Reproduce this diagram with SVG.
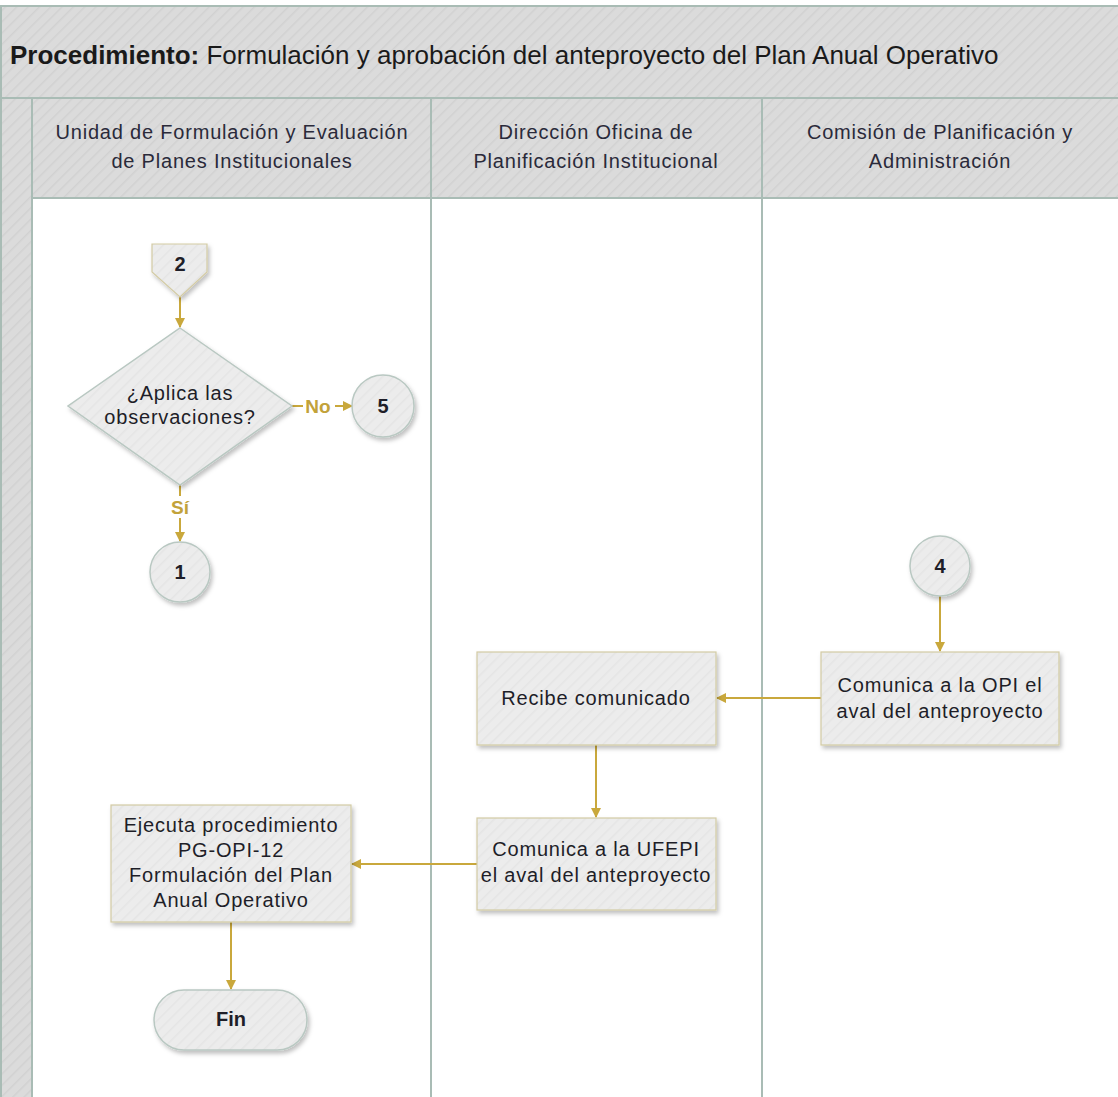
<svg xmlns="http://www.w3.org/2000/svg" width="1118" height="1097" viewBox="0 0 1118 1097">
<defs>
<pattern id="hatch" width="8" height="8" patternUnits="userSpaceOnUse" patternTransform="rotate(45)">
<rect width="8" height="8" fill="#dbdbdb"/>
<line x1="0" y1="0" x2="0" y2="8" stroke="#d1d1d1" stroke-width="3"/>
</pattern>
<pattern id="hatchN" width="8" height="8" patternUnits="userSpaceOnUse" patternTransform="rotate(45)">
<rect width="8" height="8" fill="#ececec"/>
<line x1="0" y1="0" x2="0" y2="8" stroke="#e5e5e5" stroke-width="3"/>
</pattern>
<filter id="sh" x="-10%" y="-10%" width="130%" height="130%">
<feDropShadow dx="2" dy="3" stdDeviation="2" flood-color="#000" flood-opacity="0.25"/>
</filter>
<marker id="arr" markerWidth="10" markerHeight="10" refX="9" refY="5" orient="auto" markerUnits="userSpaceOnUse" viewBox="0 0 10 10">
<path d="M0,0 L10,5 L0,10 Z" fill="#c9a83c"/>
</marker>
</defs>
<style>
.frame{fill:none;stroke:#a9bcb5;stroke-width:2}
.hdr{fill:url(#hatch);stroke:#a9bcb5;stroke-width:2}
.node{fill:url(#hatchN);stroke:#d3cba4;stroke-width:1.2;filter:url(#sh)}
.cir{fill:url(#hatchN);stroke:#b9c8c2;stroke-width:1.5;filter:url(#sh)}
.lane{font-family:"Liberation Sans",Arial,sans-serif;font-size:20px;letter-spacing:0.8px;fill:#2a2a3a;text-anchor:middle}
.t{font-family:"Liberation Sans",Arial,sans-serif;font-size:20px;letter-spacing:0.8px;fill:#1e1e28;text-anchor:middle}
.b{font-family:"Liberation Sans",Arial,sans-serif;font-size:20px;font-weight:bold;fill:#1e1e28;text-anchor:middle}
.lbl{font-family:"Liberation Sans",Arial,sans-serif;font-size:19px;font-weight:bold;fill:#c2a23a;text-anchor:middle}
.c{fill:none;stroke:#c9a83c;stroke-width:2;marker-end:url(#arr)}
</style>
<rect x="0" y="0" width="1118" height="1097" fill="#ffffff"/>
<g id="pool">
<rect class="hdr" x="1" y="6" width="1120" height="92"/>
<text x="10" y="64" font-family="Liberation Sans, Arial, sans-serif" font-size="26" fill="#1a1a1a"><tspan font-weight="bold">Procedimiento:</tspan> Formulación y aprobación del anteproyecto del Plan Anual Operativo</text>
<rect class="hdr" x="1" y="98" width="31" height="1005"/>
</g>
<g id="lane1">
<rect class="hdr" x="32" y="98" width="399" height="100"/>
<rect x="32" y="198" width="399" height="905" fill="#ffffff" stroke="#a9bcb5" stroke-width="2"/>
<text class="lane" x="232" y="139">Unidad de Formulación y Evaluación</text>
<text class="lane" x="232" y="168">de Planes Institucionales</text>
</g>
<g id="lane2">
<rect class="hdr" x="431" y="98" width="331" height="100"/>
<rect x="431" y="198" width="331" height="905" fill="#ffffff" stroke="#a9bcb5" stroke-width="2"/>
<text class="lane" x="596" y="139">Dirección Oficina de</text>
<text class="lane" x="596" y="168">Planificación Institucional</text>
</g>
<g id="lane3">
<rect class="hdr" x="762" y="98" width="360" height="100"/>
<rect x="762" y="198" width="360" height="905" fill="#ffffff" stroke="#a9bcb5" stroke-width="2"/>
<text class="lane" x="940" y="139">Comisión de Planificación y</text>
<text class="lane" x="940" y="168">Administración</text>
</g>
<g id="connectors">
<line class="c" x1="180" y1="297" x2="180" y2="327"/>
<line class="c" x1="292" y1="406" x2="352" y2="406"/>
<line class="c" x1="180" y1="485" x2="180" y2="541"/>
<line class="c" x1="940" y1="596" x2="940" y2="651"/>
<line class="c" x1="821" y1="698" x2="717" y2="698"/>
<line class="c" x1="596" y1="745" x2="596" y2="817"/>
<line class="c" x1="477" y1="864" x2="352" y2="864"/>
<line class="c" x1="231" y1="922" x2="231" y2="989"/>
<rect x="303" y="396" width="32" height="20" fill="#ffffff"/>
<text class="lbl" x="318" y="413">No</text>
<rect x="166" y="496" width="28" height="22" fill="#ffffff"/>
<text class="lbl" x="180" y="514">Sí</text>
</g>
<g id="n2">
<path class="node" d="M152,244 H207 V272 L180,297 L152,272 Z"/>
<text class="b" x="180" y="271">2</text>
</g>
<g id="decision">
<path class="cir" d="M180,328 L292,406 L180,485 L68,406 Z"/>
<text class="t" x="180" y="400">¿Aplica las</text>
<text class="t" x="180" y="424">observaciones?</text>
</g>
<g id="n5">
<circle class="cir" cx="383" cy="406" r="31"/>
<text class="b" x="383" y="413">5</text>
</g>
<g id="n1">
<circle class="cir" cx="180" cy="572" r="30"/>
<text class="b" x="180" y="579">1</text>
</g>
<g id="n4">
<circle class="cir" cx="940" cy="566" r="30"/>
<text class="b" x="940" y="573">4</text>
</g>
<g id="comunicaOPI">
<rect class="node" x="821" y="652" width="238" height="93"/>
<text class="t" x="940" y="692">Comunica a la OPI el</text>
<text class="t" x="940" y="718">aval del anteproyecto</text>
</g>
<g id="recibe">
<rect class="node" x="477" y="652" width="239" height="93"/>
<text class="t" x="596" y="705">Recibe comunicado</text>
</g>
<g id="comunicaUFEPI">
<rect class="node" x="477" y="818" width="239" height="92"/>
<text class="t" x="596" y="856">Comunica a la UFEPI</text>
<text class="t" x="596" y="882">el aval del anteproyecto</text>
</g>
<g id="ejecuta">
<rect class="node" x="111" y="805" width="240" height="117"/>
<text class="t" x="231" y="832">Ejecuta procedimiento</text>
<text class="t" x="231" y="857">PG-OPI-12</text>
<text class="t" x="231" y="882">Formulación del Plan</text>
<text class="t" x="231" y="907">Anual Operativo</text>
</g>
<g id="fin">
<rect class="cir" x="154" y="990" width="153" height="60" rx="30" ry="30"/>
<text class="b" x="231" y="1026">Fin</text>
</g>
</svg>
